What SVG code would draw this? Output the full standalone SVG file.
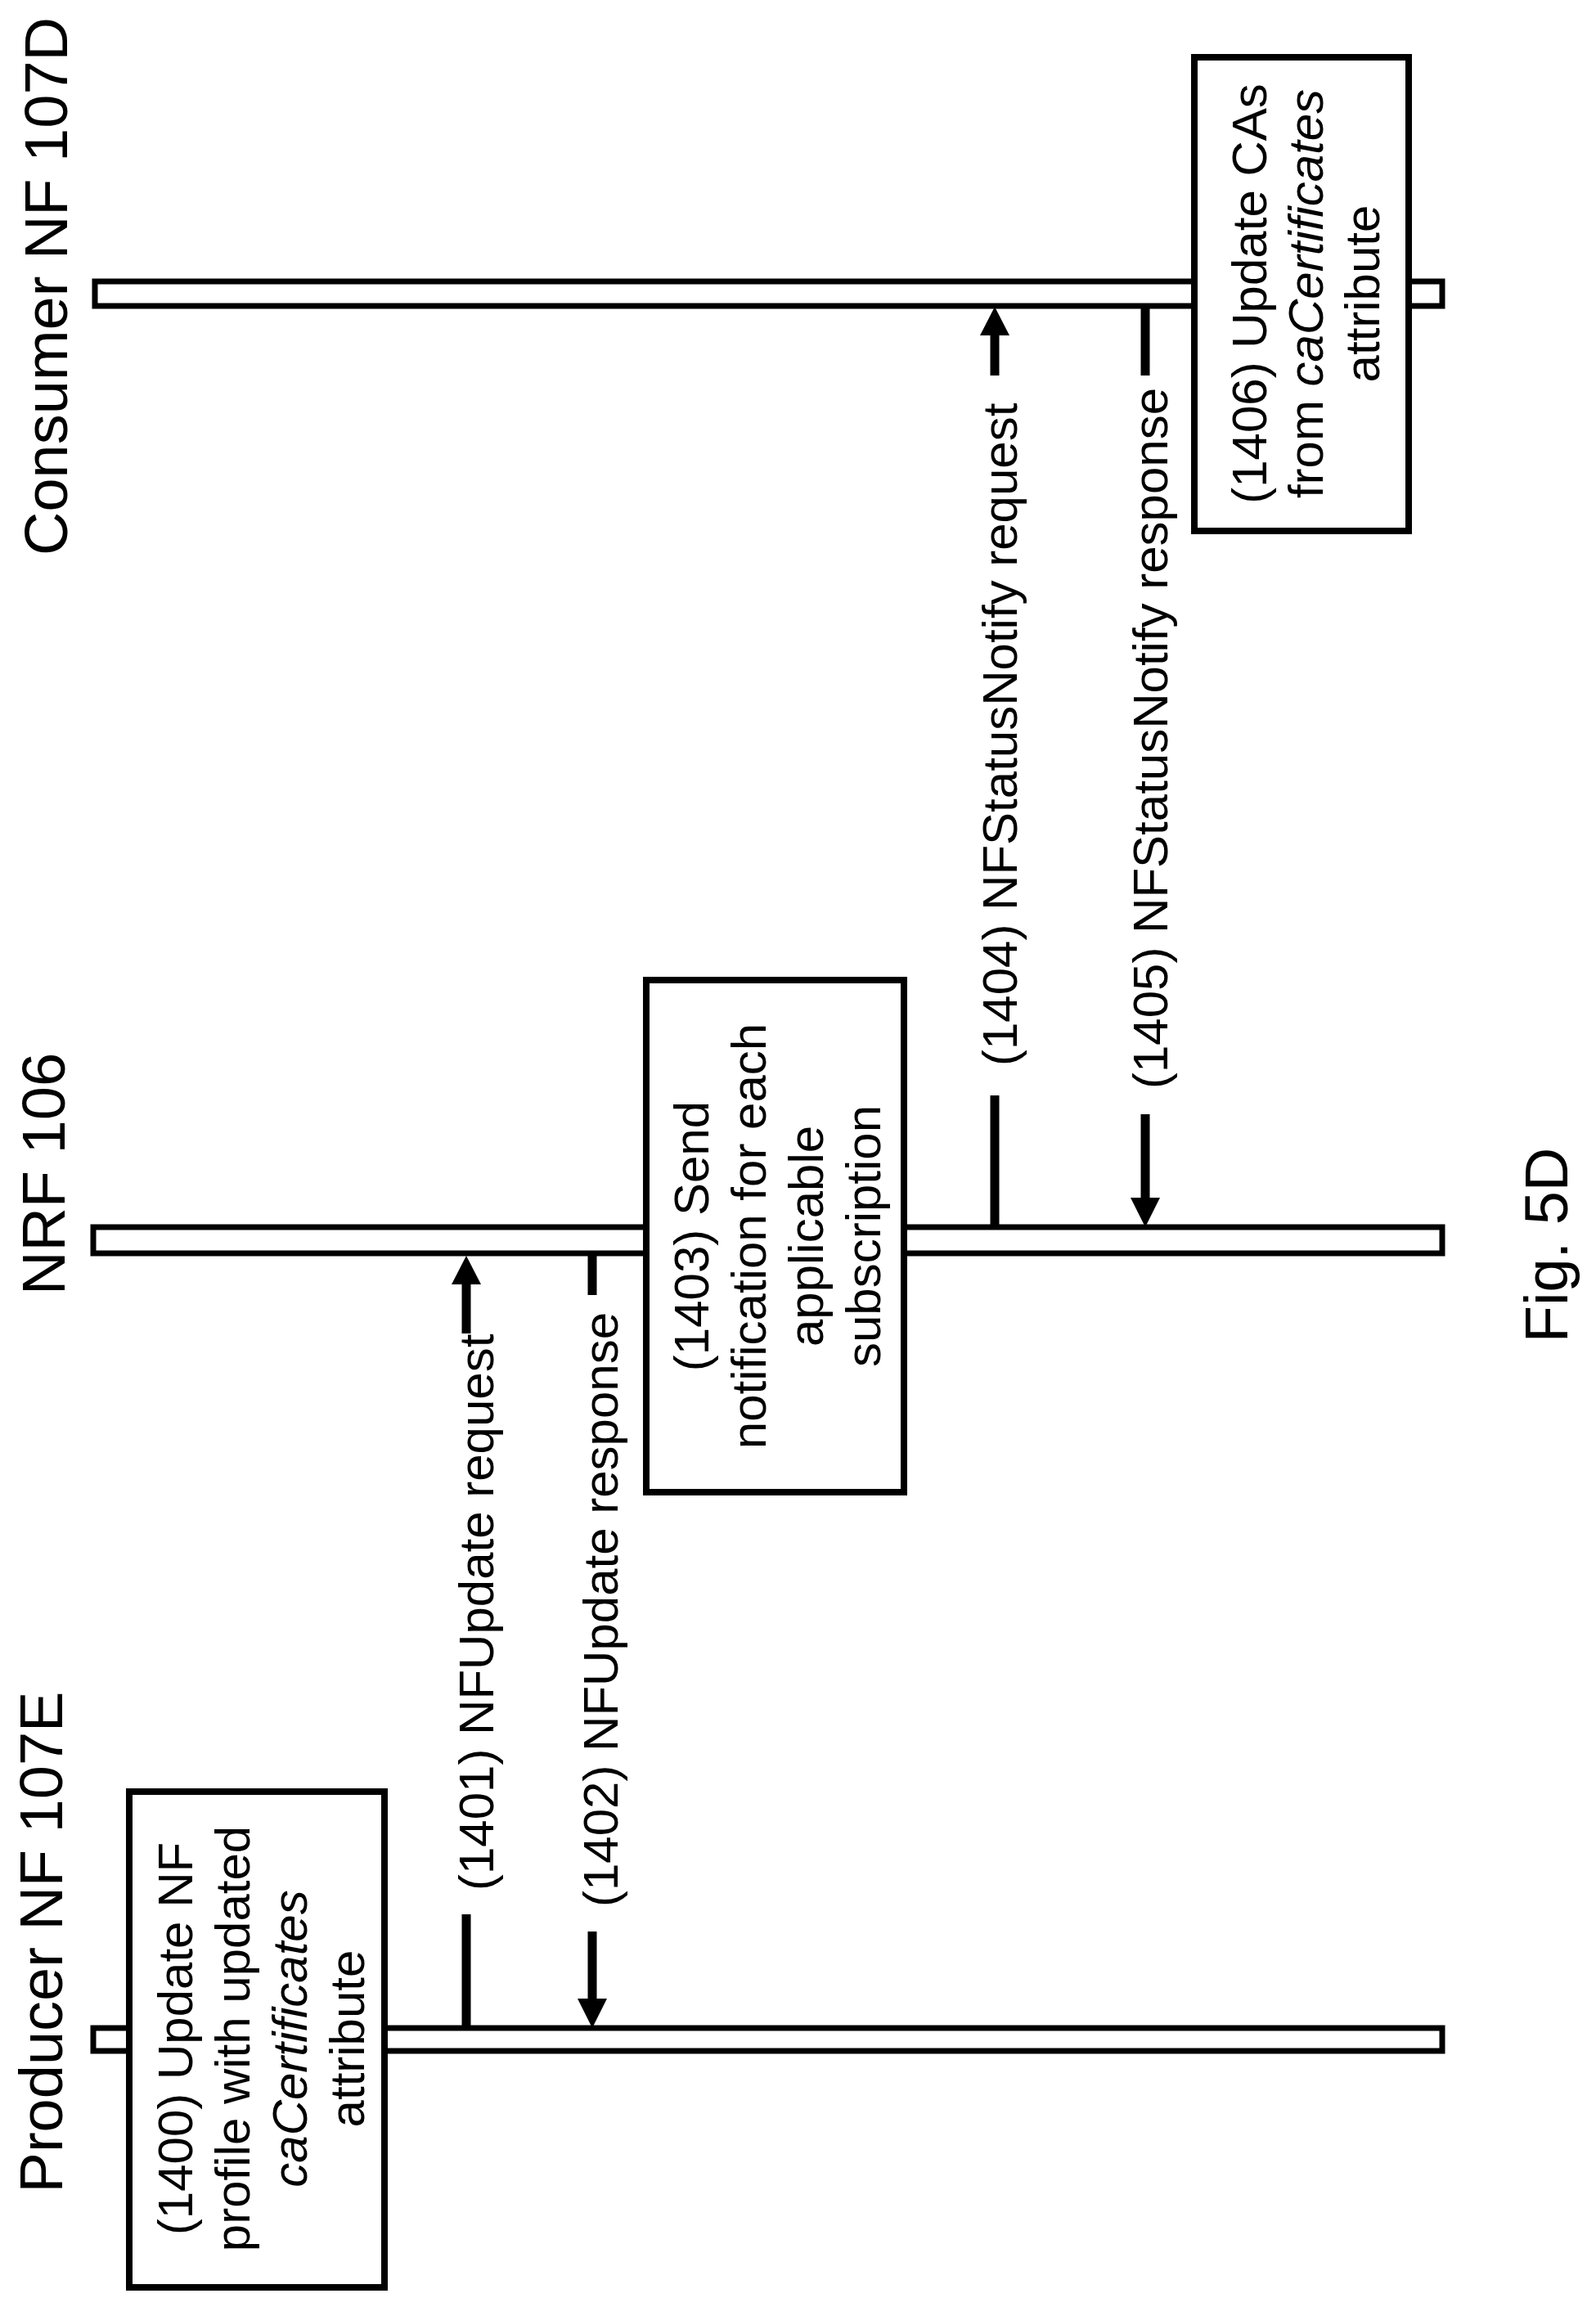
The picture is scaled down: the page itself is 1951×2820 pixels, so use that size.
<svg xmlns="http://www.w3.org/2000/svg" width="1951" height="2820" viewBox="0 0 1951 2820">
<style>
text{font-family:"Liberation Sans",Arial,sans-serif;fill:#000;dominant-baseline:central}
.t{font-size:74px;text-anchor:middle}
.b{font-size:60px;text-anchor:middle}
.l{font-size:60px;text-anchor:start}
.bar{fill:#fff;stroke:#000;stroke-width:7}
.box{fill:#fff;stroke:#000;stroke-width:8}
.ln{stroke:#000;stroke-width:11;fill:none}
</style>
<rect width="1951" height="2820" fill="#fff"/>
<g id="producer">
<rect class="bar" x="114" y="2479" width="1649" height="28"/>
<text class="t" transform="rotate(-90 50 2374)" x="50" y="2374">Producer NF 107E</text>
</g>
<g id="nrf">
<rect class="bar" x="114" y="1500" width="1649" height="32"/>
<text class="t" transform="rotate(-90 53 1435)" x="53" y="1435">NRF 106</text>
</g>
<g id="consumer">
<rect class="bar" x="116" y="344" width="1647" height="30"/>
<text class="t" transform="rotate(-90 56 350)" x="56" y="350">Consumer NF 107D</text>
</g>
<g id="connectors">
<line class="ln" x1="570" y1="2479" x2="570" y2="2340"/>
<line class="ln" x1="570" y1="1630" x2="570" y2="1566"/>
<polygon points="570,1535 552,1570 588,1570"/>
<text class="l" transform="rotate(-90 582 2311)" x="582" y="2311">(1401) NFUpdate request</text>
<line class="ln" x1="724" y1="1532" x2="724" y2="1583"/>
<line class="ln" x1="724" y1="2361" x2="724" y2="2445"/>
<polygon points="724,2479 706,2443 742,2443"/>
<text class="l" transform="rotate(-90 734 2331)" x="734" y="2331">(1402) NFUpdate response</text>
<line class="ln" x1="1216" y1="1500" x2="1216" y2="1339"/>
<line class="ln" x1="1216" y1="459" x2="1216" y2="405"/>
<polygon points="1216,375 1198,410 1234,410"/>
<text class="l" transform="rotate(-90 1222 1303)" x="1222" y="1303">(1404) NFStatusNotify request</text>
<line class="ln" x1="1400" y1="374" x2="1400" y2="459"/>
<line class="ln" x1="1400" y1="1362" x2="1400" y2="1466"/>
<polygon points="1400,1500 1382,1464 1418,1464"/>
<text class="l" transform="rotate(-90 1406 1331)" x="1406" y="1331">(1405) NFStatusNotify response</text>
</g>
<g id="step1400">
<rect class="box" x="158" y="2190" width="312" height="606"/>
<text class="b" transform="rotate(-90 214 2492)" x="214" y="2492">(1400) Update NF</text>
<text class="b" transform="rotate(-90 284 2492)" x="284" y="2492">profile with updated</text>
<text class="b" transform="rotate(-90 354 2492)" x="354" y="2492" font-style="italic">caCertificates</text>
<text class="b" transform="rotate(-90 424 2492)" x="424" y="2492">attribute</text>
</g>
<g id="step1403">
<rect class="box" x="790" y="1198" width="315" height="626"/>
<text class="b" transform="rotate(-90 845 1511)" x="845" y="1511">(1403) Send</text>
<text class="b" transform="rotate(-90 915 1511)" x="915" y="1511">notification for each</text>
<text class="b" transform="rotate(-90 985 1511)" x="985" y="1511">applicable</text>
<text class="b" transform="rotate(-90 1055 1511)" x="1055" y="1511">subscription</text>
</g>
<g id="step1406">
<rect class="box" x="1460" y="70" width="262" height="579"/>
<text class="b" transform="rotate(-90 1527 359)" x="1527" y="359">(1406) Update CAs</text>
<text class="b" transform="rotate(-90 1596 359)" x="1596" y="359">from <tspan font-style="italic">caCertificates</tspan></text>
<text class="b" transform="rotate(-90 1665 359)" x="1665" y="359">attribute</text>
</g>
<text class="t" transform="rotate(-90 1890 1522)" x="1890" y="1522">Fig. 5D</text>
</svg>
